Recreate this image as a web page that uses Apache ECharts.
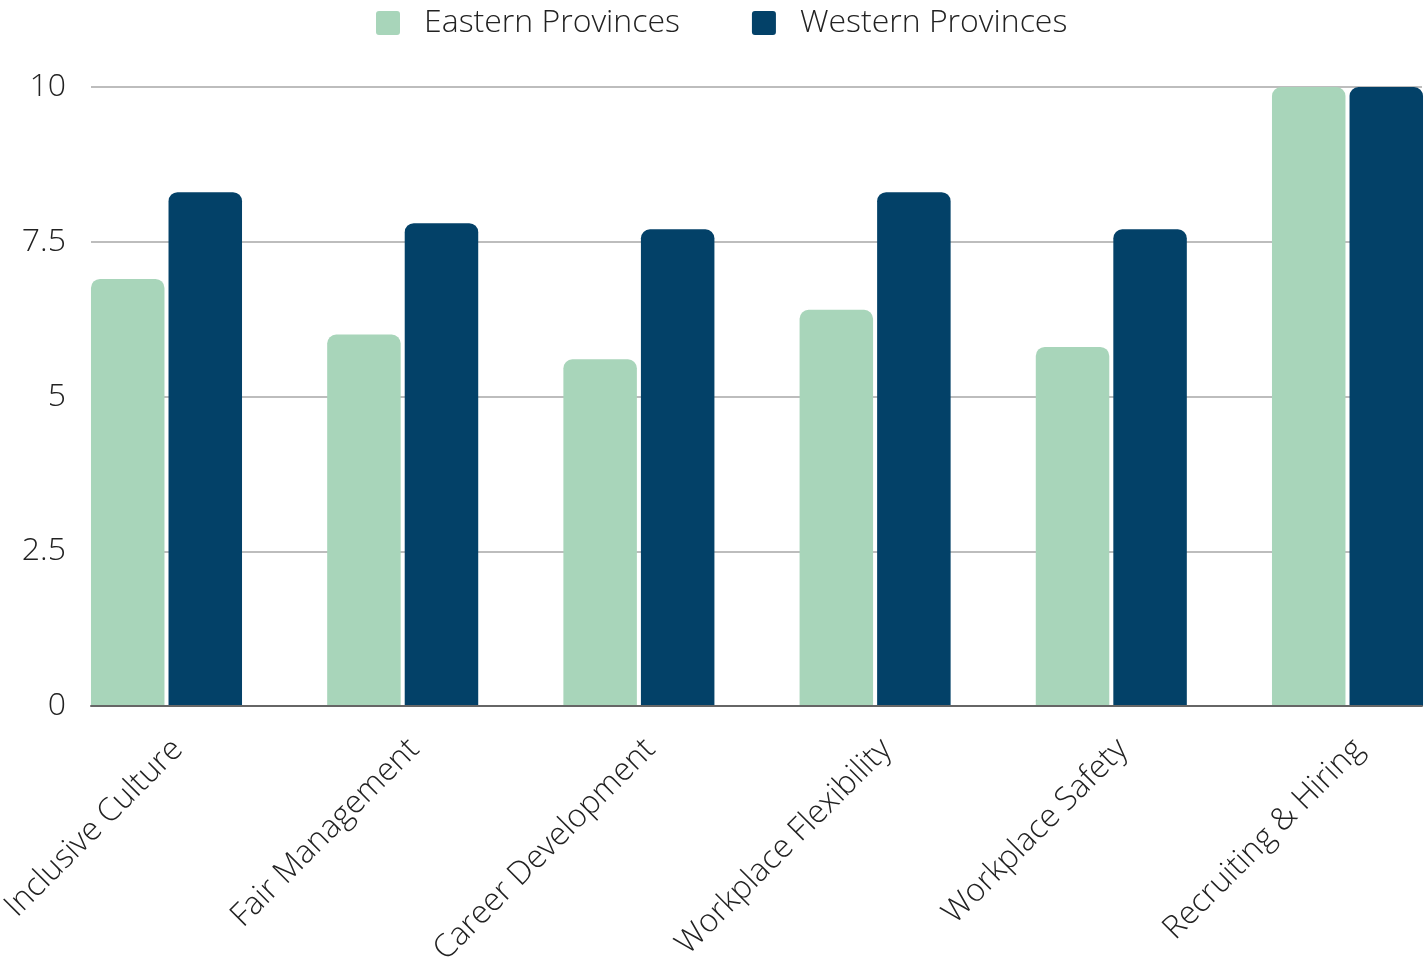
<!DOCTYPE html>
<html>
<head>
<meta charset="utf-8">
<script src="https://cdn.jsdelivr.net/npm/echarts@6/dist/echarts.min.js"></script>
<style>
  html, body { margin: 0; padding: 0; background: #ffffff; }
  #chart { width: 1424px; height: 957px; }
</style>
</head>
<body>
<div id="chart"></div>
<script>
// Survey scores by workplace theme, eastern vs western provinces
const categories = ['Inclusive Culture', 'Fair Management', 'Career Development', 'Workplace Flexibility', 'Workplace Safety', 'Recruiting & Hiring'];
const seriesNames = ['Eastern Provinces', 'Western Provinces'];
const eastern = [6.9, 6.0, 5.6, 6.4, 5.8, 10];
const western = [8.3, 7.8, 7.7, 8.3, 7.7, 10];
const yTicks = [0, 2.5, 5, 7.5, 10];

const FONT = '"Open Sans", "Noto Sans", sans-serif';
const colors = ['#a8d5ba', '#034168'];

// small-radius square legend marker
const LEGEND_ICON = 'path://M3,0 H21 A3,3 0 0 1 24,3 V21 A3,3 0 0 1 21,24 H3 A3,3 0 0 1 0,21 V3 A3,3 0 0 1 3,0 Z';

const chart = echarts.init(document.getElementById('chart'), null, { renderer: 'canvas' });

const option = {
  animation: false,
  color: colors,
  legend: {
    top: 2,
    left: 371,
    itemWidth: 24,
    itemHeight: 24,
    itemGap: 72,
    icon: LEGEND_ICON,
    data: seriesNames,
    textStyle: {
      fontFamily: FONT,
      fontWeight: 300,
      fontSize: 32,
      color: '#222222',
      padding: [0, 0, 0, 19]
    }
  },
  grid: [
    // frame grid: gridlines, y labels, baseline
    { left: 91, right: 2, top: 87, bottom: 251, containLabel: false, outerBoundsMode: 'none' },
    // bar grid: bands packed so the outer groups touch the frame edges
    { left: 48.4, width: 1417.2, top: 87, bottom: 251, containLabel: false, outerBoundsMode: 'none' }
  ],
  xAxis: [
    {
      gridIndex: 0,
      type: 'category',
      data: categories,
      z: 5,
      axisLine: { show: true, lineStyle: { color: '#666666', width: 2 } },
      axisTick: { show: false },
      axisLabel: { show: false },
      splitLine: { show: false }
    },
    {
      gridIndex: 1,
      type: 'category',
      data: categories,
      axisLine: { show: false },
      axisTick: { show: false },
      axisLabel: {
        rotate: 45,
        margin: 27,
        interval: 0,
        verticalAlign: 'top',
        fontFamily: FONT,
        fontWeight: 300,
        fontSize: 32,
        color: '#222222'
      },
      splitLine: { show: false }
    }
  ],
  yAxis: [
    {
      gridIndex: 0,
      type: 'value',
      min: yTicks[0],
      max: yTicks[yTicks.length - 1],
      interval: 2.5,
      axisLine: { show: false },
      axisTick: { show: false },
      axisLabel: {
        margin: 25,
        padding: [3, 0, 0, 0],
        fontFamily: FONT,
        fontWeight: 300,
        fontSize: 32,
        color: '#222222'
      },
      splitLine: { show: true, lineStyle: { color: '#bdbdbd', width: 2 } }
    },
    {
      gridIndex: 1,
      type: 'value',
      min: yTicks[0],
      max: yTicks[yTicks.length - 1],
      interval: 2.5,
      show: false,
      splitLine: { show: false }
    }
  ],
  series: [
    {
      name: seriesNames[0],
      type: 'bar',
      xAxisIndex: 1,
      yAxisIndex: 1,
      data: eastern,
      barWidth: 73.5,
      barGap: '5.5%',
      itemStyle: { color: colors[0], borderRadius: [9, 9, 0, 0] }
    },
    {
      name: seriesNames[1],
      type: 'bar',
      xAxisIndex: 1,
      yAxisIndex: 1,
      data: western,
      barWidth: 73.5,
      barGap: '5.5%',
      itemStyle: { color: colors[1], borderRadius: [9, 9, 0, 0] }
    }
  ]
};

chart.setOption(option);
</script>
</body>
</html>
